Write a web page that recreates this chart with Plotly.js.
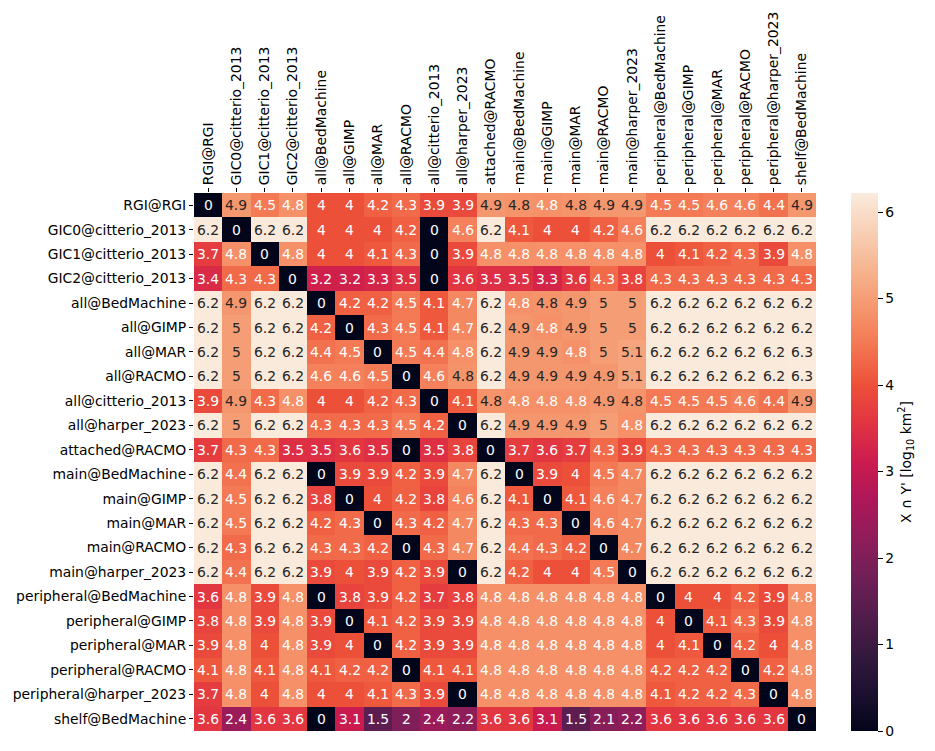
<!DOCTYPE html>
<html>
<head>
<meta charset="utf-8">
<script src="https://cdn.plot.ly/plotly-3.0.1.min.js"></script>
<style>body{margin:0;padding:0;background:#fff}</style>
</head>
<body>
<div id="chart" style="width:935px;height:751px"></div>
<script>
const labels = ["RGI@RGI","GIC0@citterio_2013","GIC1@citterio_2013","GIC2@citterio_2013","all@BedMachine","all@GIMP","all@MAR","all@RACMO","all@citterio_2013","all@harper_2023","attached@RACMO","main@BedMachine","main@GIMP","main@MAR","main@RACMO","main@harper_2023","peripheral@BedMachine","peripheral@GIMP","peripheral@MAR","peripheral@RACMO","peripheral@harper_2023","shelf@BedMachine"];

const r00 = [0,4.9,4.5,4.8,4,4,4.2,4.3,3.9,3.9,4.9,4.84,4.8,4.84,4.9,4.9,4.5,4.5,4.6,4.6,4.4,4.9];
const r01 = [6.2,0,6.2,6.2,4,4,4,4.2,0,4.6,6.2,4.1,4,4,4.2,4.6,6.2,6.2,6.2,6.2,6.2,6.2];
const r02 = [3.7,4.8,0,4.8,4,4,4.1,4.3,0,3.9,4.8,4.8,4.8,4.8,4.8,4.8,4,4.1,4.2,4.3,3.9,4.8];
const r03 = [3.4,4.3,4.3,0,3.2,3.2,3.3,3.5,0,3.6,3.5,3.5,3.3,3.6,4.3,3.8,4.3,4.3,4.3,4.3,4.3,4.3];
const r04 = [6.2,4.9,6.2,6.2,0,4.2,4.2,4.5,4.1,4.7,6.2,4.8,4.84,4.9,5,5,6.2,6.2,6.2,6.2,6.2,6.2];
const r05 = [6.2,5,6.2,6.2,4.2,0,4.3,4.5,4.1,4.7,6.2,4.9,4.8,4.9,5,5,6.2,6.2,6.2,6.2,6.2,6.2];
const r06 = [6.2,5,6.2,6.2,4.4,4.5,0,4.5,4.4,4.8,6.2,4.9,4.9,4.8,5,5.1,6.2,6.2,6.2,6.2,6.2,6.3];
const r07 = [6.2,5,6.2,6.2,4.6,4.6,4.5,0,4.6,4.84,6.2,4.9,4.9,4.9,4.9,5.1,6.2,6.2,6.2,6.2,6.2,6.3];
const r08 = [3.9,4.9,4.3,4.8,4,4,4.2,4.3,0,4.1,4.84,4.8,4.8,4.8,4.9,4.84,4.5,4.5,4.5,4.6,4.4,4.9];
const r09 = [6.2,5,6.2,6.2,4.3,4.3,4.3,4.5,4.2,0,6.2,4.9,4.9,4.9,5,4.8,6.2,6.2,6.2,6.2,6.2,6.2];
const r10 = [3.7,4.3,4.3,3.5,3.5,3.6,3.5,0,3.5,3.8,0,3.7,3.6,3.7,4.3,3.9,4.3,4.3,4.3,4.3,4.3,4.3];
const r11 = [6.2,4.4,6.2,6.2,0,3.9,3.9,4.2,3.9,4.7,6.2,0,3.9,4,4.5,4.7,6.2,6.2,6.2,6.2,6.2,6.2];
const r12 = [6.2,4.5,6.2,6.2,3.8,0,4,4.2,3.8,4.6,6.2,4.1,0,4.1,4.6,4.7,6.2,6.2,6.2,6.2,6.2,6.2];
const r13 = [6.2,4.5,6.2,6.2,4.2,4.3,0,4.3,4.2,4.7,6.2,4.3,4.3,0,4.6,4.7,6.2,6.2,6.2,6.2,6.2,6.2];
const r14 = [6.2,4.3,6.2,6.2,4.3,4.3,4.2,0,4.3,4.7,6.2,4.4,4.3,4.2,0,4.7,6.2,6.2,6.2,6.2,6.2,6.2];
const r15 = [6.2,4.4,6.2,6.2,3.9,4,3.9,4.2,3.9,0,6.2,4.2,4,4,4.5,0,6.2,6.2,6.2,6.2,6.2,6.2];
const r16 = [3.6,4.8,3.9,4.8,0,3.8,3.9,4.2,3.7,3.8,4.8,4.8,4.8,4.8,4.8,4.8,0,4,4,4.2,3.9,4.8];
const r17 = [3.8,4.8,3.9,4.8,3.9,0,4.1,4.2,3.9,3.9,4.8,4.8,4.8,4.8,4.8,4.8,4,0,4.1,4.3,3.9,4.8];
const r18 = [3.9,4.8,4,4.8,3.9,4,0,4.2,3.9,3.9,4.8,4.8,4.8,4.8,4.8,4.8,4,4.1,0,4.2,4,4.8];
const r19 = [4.1,4.8,4.1,4.8,4.1,4.2,4.2,0,4.1,4.1,4.8,4.8,4.8,4.8,4.8,4.8,4.2,4.2,4.2,0,4.2,4.8];
const r20 = [3.7,4.8,4,4.8,4,4,4.1,4.3,3.9,0,4.8,4.8,4.8,4.8,4.8,4.8,4.1,4.2,4.2,4.3,0,4.8];
const r21 = [3.6,2.4,3.6,3.6,0,3.1,1.5,2,2.4,2.2,3.6,3.6,3.1,1.5,2.1,2.2,3.6,3.6,3.6,3.6,3.6,0];

const z = [r00,r01,r02,r03,r04,r05,r06,r07,r08,r09,r10,r11,r12,r13,r14,r15,r16,r17,r18,r19,r20,r21];
const colorbarTicks = [0,1,2,3,4,5,6];

const rocket = [
  [0.0,"#03051a"],[0.0714,"#1c1030"],[0.1429,"#35193e"],[0.2143,"#521c4b"],
  [0.2857,"#701f57"],[0.3571,"#8f1d5a"],[0.4286,"#ad1759"],[0.5,"#cb1b4f"],
  [0.5714,"#e13342"],[0.6429,"#ed5039"],[0.7143,"#f37651"],[0.7857,"#f5966d"],
  [0.8571,"#f6b48f"],[0.9286,"#f8d0b5"],[1.0,"#faebdd"]
];

const FS = 13.9;
const annotations = [];
z.forEach((row, i) => {
  row.forEach((v, j) => {
    annotations.push({
      x: labels[j], y: labels[i], xref: "x", yref: "y",
      text: String(parseFloat(v.toPrecision(2))),
      showarrow: false,
      font: {family: "DejaVu Sans", size: FS, color: v >= 4.82 ? "#262626" : "#ffffff"}
    });
  });
});

const trace = {
  type: "heatmap",
  z: z, x: labels, y: labels,
  zmin: 0, zmax: 6.22,
  colorscale: rocket,
  xgap: 0, ygap: 0,
  colorbar: {
    x: 1.056, xanchor: "left", xref: "paper", xpad: 0,
    y: 0.5, yanchor: "middle", ypad: 0,
    len: 1.0, lenmode: "fraction",
    thickness: 27, thicknessmode: "pixels",
    outlinewidth: 0,
    ticks: "outside", ticklen: 5, tickwidth: 1, tickcolor: "#000",
    tickvals: colorbarTicks,
    tickfont: {family: "DejaVu Sans", size: FS, color: "#000"},
    title: {text: "X ∩ Y' [log<sub>10</sub> km<sup>2</sup>]", side: "right",
            font: {family: "DejaVu Sans", size: FS, color: "#000"}}
  }
};

const layout = {
  width: 935, height: 751,
  margin: {l: 194, r: 119, t: 193, b: 20, pad: 0, autoexpand: false},
  paper_bgcolor: "#fff", plot_bgcolor: "#fff",
  font: {family: "DejaVu Sans", size: FS, color: "#000"},
  xaxis: {
    side: "top", tickangle: -90, type: "category",
    ticks: "outside", ticklen: 4, tickwidth: 1, tickcolor: "#000",
    showgrid: false, zeroline: false, showline: false, automargin: false,
    tickfont: {family: "DejaVu Sans", size: FS, color: "#000"}
  },
  yaxis: {
    autorange: "reversed", type: "category",
    ticks: "outside", ticklen: 4, tickwidth: 1, tickcolor: "#000",
    showgrid: false, zeroline: false, showline: false, automargin: false,
    tickfont: {family: "DejaVu Sans", size: FS, color: "#000"}
  },
  annotations: annotations
};

Plotly.newPlot("chart", [trace], layout, {displayModeBar: false, staticPlot: true});
</script>
</body>
</html>
